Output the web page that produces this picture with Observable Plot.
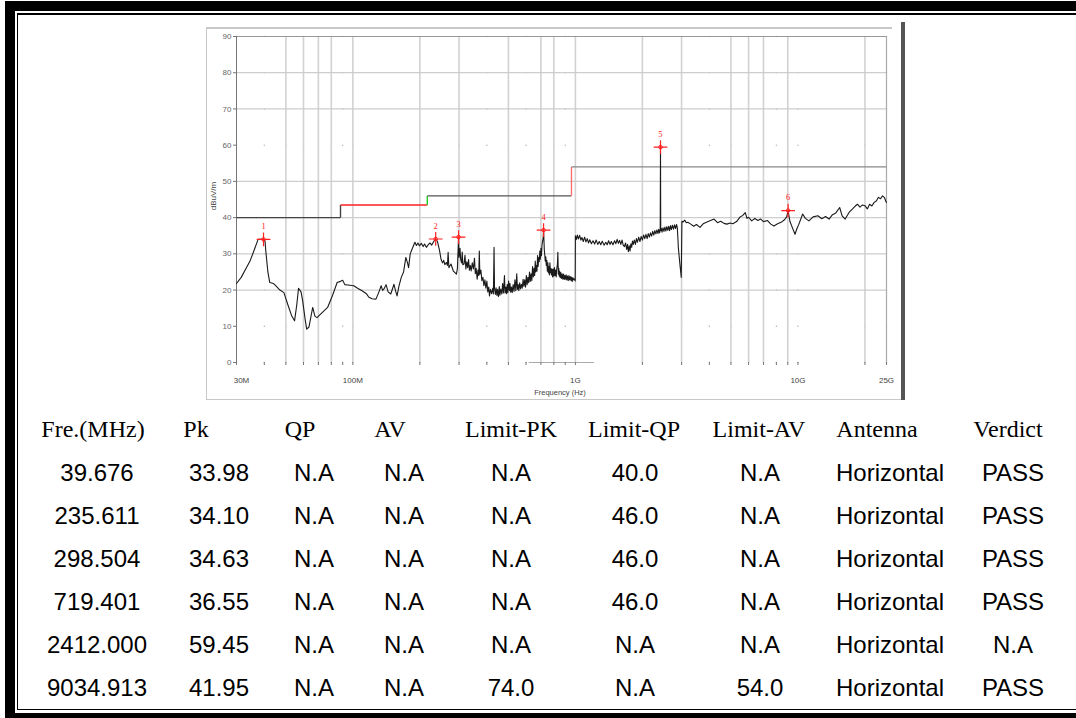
<!DOCTYPE html>
<html>
<head>
<meta charset="utf-8">
<script src="https://cdn.jsdelivr.net/npm/d3@7"></script>
<script src="https://cdn.jsdelivr.net/npm/@observablehq/plot@0.6"></script>
<style>
  html, body { margin: 0; padding: 0; background: #fff; }
  #page { position: relative; width: 1076px; height: 718px; overflow: hidden; background: #fff; }
  #page svg { position: absolute; left: 0; top: 0; }
  .bar { position: absolute; background: #000; }
  .fr { position: absolute; }
  .cell { position: absolute; transform: translate(-50%, -50%); white-space: nowrap; line-height: 24px; color: #000; }
  .hdr { font-family: "Liberation Serif", "Times New Roman", serif; font-size: 24px; }
  .val { font-family: "Liberation Sans", Arial, sans-serif; font-size: 24px; }
</style>
</head>
<body>
<div id="page"></div>
<script>
// ---------- chart data (frequency in MHz, level in dBuV/m) ----------
const traceF = [30,31.5,33,34.5,36,37.5,39.7,40.3,40.6,41.5,42.3,44,45,47,49,51,53,54.7,56,57,58.5,59.5,61,62,63.5,66,67.5,69,72,77,81,85,88,90,92,95,101,105,110,115,118,122,127,131,134,136,138,141,144,148,151,153,156,158,161,165,169,173,176,178,181,186,190,193,196,199,203,207,210,214,218,222,226,232,235.6,240,245,249,253,256,259,263,266,268,270,276,283,292,
295,298.5,300,303,305,308,310,312,316,319,322,325,328,331,334,337,340,344,348,352,355,358,362,365,368,370,372,376,380,384,388,392,396,400,404,408,411,415,420,425,428,431,433,437,440,444,447,451,455,458,462,467,471,475,480,483,487,490,494,497,501,505,508,512,516,520,525,530,535,540,545,549,553,557,562,567,572,577,582,587,592,597,602,607,612,617,622,627,632,637,642,647,652,656,660,664,668,672,676,680,684,688,692,696,700,704,708,712,716,719.4,722,725,728,732,736,740,744,748,752,756,760,764,768,772,776,780,785,790,795,800,805,810,815,820,825,830,834,838,842,846,850,855,860,866,872,878,885,890,896,902,908,914,920,928,935,942,948,956,962,968,975,985,995,998,
1000,1010,1020,1030,1045,1058,1070,1085,1100,1115,1130,1145,1160,1180,1200,1220,1240,1260,1280,1300,1320,1345,1370,1390,1410,1430,1450,1475,1500,1520,1540,1560,1580,1600,1620,1640,1660,1680,1700,1715,1730,1745,1760,1775,1790,1805,1820,1840,1860,1880,1900,1925,1950,1975,2000,2025,2050,2075,2100,2125,2150,2175,2200,2225,2250,2275,2300,2325,2350,2370,2390,2405,2412,2418,2435,2450,2475,2500,2525,2550,2575,2600,2625,2650,2675,2700,2730,2760,2790,2820,2850,2870,2890,2900,2950,2990,
3010,3050,3100,3150,3200,3300,3400,3500,3630,3750,3900,4050,4200,4350,4500,4650,4800,4950,5100,5300,5500,5650,5800,5900,6000,6200,6400,6600,6800,7000,7300,7550,7800,8100,8400,8700,8900,9035,9200,9400,9700,9900,10100,10500,10800,11200,11700,12300,12800,13300,13800,14300,14800,15400,15800,16300,17000,17600,18100,18500,19000,19500,20000,20500,21000,21500,22000,22500,23000,23500,24000,24500,24800,25000];
const traceV = [21.8,23.5,25.8,28,31,34,34,33.5,31,25,22.1,21.8,21.2,20,19.3,16,13,11.5,16,20.5,19.5,17,12,9.2,9.8,15.2,12.8,12.4,13.5,15.2,18.5,22.1,22.4,22.7,21.5,21.4,21.2,20.5,19.8,19,18,17.6,17.5,19.5,21.2,19.9,20.3,21.5,19.5,18.9,20.5,21.6,19.5,18.4,21,23.5,25,29,27.5,26.2,30,31.8,33.2,32.3,33,32.2,32.9,32,32.7,31.8,32.5,33,32.4,33.6,34.1,33.4,31,28.5,27.5,28.2,27,27.6,26.8,30.4,26.2,27.2,25.2,24.4,
26,34.6,29,31.5,28.5,27.5,30.5,27,27.2,29.6,25.8,27.8,26.2,28.4,25.5,26.8,25.3,27.5,25.8,28.8,24.5,26,23,25.5,24,30.8,24.4,25.5,22.6,23.5,21.2,22.8,20.5,22.5,19.5,20.8,18.4,20.2,19,20.5,18.9,31.8,20.5,18.8,20.6,18.5,20.2,18.2,21,18.6,20.3,18.9,21.8,19.2,24,19.2,20.8,19,21.5,19.3,22.5,19.8,21.8,19.4,20.8,19.3,21.5,19.6,22.8,19.8,24.5,20.2,21.5,19.8,22,20.3,21.6,20.5,23,21,22.8,20.8,24,21.5,23.5,22,25,22.4,24.5,22.6,26.5,23.6,26,24,28,25,26.8,25.2,29.5,26.5,29,27.8,30.8,28.5,31.5,29.5,32.5,33.5,34.2,36.5,34,31,29.9,28,29.2,26.8,28.2,25.2,27.5,24.8,26.5,24.2,27.5,24.8,26,24.2,25.8,23.6,25.8,23.8,26.2,24,25.5,23.6,26,27,30.4,24.4,26,23.8,25.2,23.4,24.8,23.2,24.5,23,24.4,22.9,24,23,24.2,22.8,23.9,22.6,24,22.8,23.7,22.6,23.6,22.4,23.4,22.8,23.2,22.5,
35,34,35.2,34.1,35.1,33.8,34.5,33.4,34.6,33.3,34.2,33,33.9,32.8,33.6,32.7,33.8,32.6,33.4,32.5,33.5,32.4,33.2,32.5,33.6,32.6,33.4,32.5,33.6,32.8,34,32.9,33.7,32.6,33.8,32.4,32,33,31.2,32.6,30.6,32.2,30.8,32.8,31.8,33.5,32.6,33.8,32.6,34.2,33.2,34.6,33.4,34.8,33.8,35.2,34.2,35.4,34.2,35.6,34.6,35.8,34.9,36.2,35.2,36.4,35.5,36.6,35.6,36.8,35.8,36.6,59.45,36.4,37,36,37.2,36.2,37.4,36.3,37.5,36.5,37.6,36.4,37.8,36.7,37.9,36.8,38,37,38.1,37.2,34,31.8,27,23.5,
39,38.8,39.3,38.6,38.7,38.2,37.6,38.1,37.3,38.3,38.8,39.2,39.6,38.6,39,38.4,38.2,38.5,38.3,38.9,40.2,40.6,41.4,39.8,40.1,39.1,39.8,39.2,39.6,38.9,39.2,38.2,37.7,38.3,38.7,39.4,40.2,41.9,39,37.5,35.4,37,38.2,41,39.8,39.1,40.2,40.5,39.7,40.3,39.6,40.8,41.3,42.8,40.5,39.6,41.5,42.4,43.2,43.7,42.9,43.5,43.3,42.4,43.7,43.2,44.2,44.6,45.6,45.2,46,45.5,44.6,44.2];

// limit line (steps), frequency in MHz
const limitF = [30, 88, 88, 216, 216, 960, 960, 25000];
const limitV = [40, 40, 43.5, 43.5, 46, 46, 54, 54];
const limitSegColors = ["#444", "#444", "#ff2020", "#22cc22", "#555", "#ff7070", "#888"];

// axes
const yTicks = [0, 10, 20, 30, 40, 50, 60, 70, 80, 90];
const xMinorTicks = [30,40,50,60,70,80,90,100,200,300,400,500,600,700,800,900,1000,2000,3000,4000,5000,6000,7000,8000,9000,10000,20000,25000];
const xLabelF = [100, 1000, 10000, 25000];
const xLabelT = ["100M", "1G", "10G", "25G"];
const xFirstLabelF = [30];
const xFirstLabelT = ["30M"];
const gridF = [50,60,70,80,100,200,300,500,700,800,1000,2000,3000,5000,6000,7000,9000,20000];
const gridV = [20, 30, 40, 50, 70, 80];
const bottomStubF = [620, 1220];

// ---------- table data ----------
const headers = ["Fre.(MHz)", "Pk", "QP", "AV", "Limit-PK", "Limit-QP", "Limit-AV", "Antenna", "Verdict"];
const freqCol = ["39.676", "235.611", "298.504", "719.401", "2412.000", "9034.913"];
const pkCol = ["33.98", "34.10", "34.63", "36.55", "59.45", "41.95"];
const qpCol = ["N.A", "N.A", "N.A", "N.A", "N.A", "N.A"];
const avCol = ["N.A", "N.A", "N.A", "N.A", "N.A", "N.A"];
const limPkCol = ["N.A", "N.A", "N.A", "N.A", "N.A", "74.0"];
const limQpCol = ["40.0", "46.0", "46.0", "46.0", "N.A", "N.A"];
const limAvCol = ["N.A", "N.A", "N.A", "N.A", "N.A", "54.0"];
const antCol = ["Horizontal", "Horizontal", "Horizontal", "Horizontal", "Horizontal", "Horizontal"];
const verdictCol = ["PASS", "PASS", "PASS", "PASS", "N.A", "PASS"];
const markerNo = ["1", "2", "3", "4", "5", "6"];

// ---------- build ----------
const trace = traceF.map((f, i) => ({f, v: traceV[i]}));
const limitSegs = limitSegColors.map((c, i) => ({x1: limitF[i], y1: limitV[i], x2: limitF[i + 1], y2: limitV[i + 1], c}));
const markers = freqCol.map((f, i) => ({f: +f, v: +pkCol[i], n: markerNo[i]}));
const dots = [];
for (const f of xMinorTicks) for (const v of yTicks) dots.push({f, v});

const chart = Plot.plot({
  width: 1076,
  height: 405,
  marginLeft: 236,
  marginRight: 190,
  marginTop: 36,
  marginBottom: 43,
  style: {background: "transparent", fontFamily: "'Liberation Sans', Arial, sans-serif"},
  x: {type: "log", domain: [30, 25000]},
  y: {domain: [0, 90]},
  marks: [
    Plot.dot(dots, {x: "f", y: "v", r: 0.7, fill: "#aaa", stroke: null}),
    Plot.ruleX(gridF, {stroke: "#d2d2d2", strokeWidth: 1.6}),
    Plot.ruleY(gridV, {stroke: "#cdcdcd", strokeWidth: 1.3}),
    Plot.ruleY([90], {stroke: "#999", strokeWidth: 1}),
    Plot.ruleX([25000], {stroke: "#aaa", strokeWidth: 1.2}),
    Plot.ruleX([30], {stroke: "#777", strokeWidth: 1}),
    Plot.ruleY([0], {x1: bottomStubF[0], x2: bottomStubF[1], stroke: "#aaa", strokeWidth: 1}),
    Plot.axisY({ticks: yTicks, tickSize: 3, tickPadding: 2, fontSize: 8, stroke: "#777", fill: "#666", label: null}),
    Plot.axisX({ticks: xMinorTicks, tickSize: 3, tickFormat: () => "", stroke: "#777", label: null}),
    Plot.text(xLabelT, {x: (d, i) => xLabelF[i], y: 0, dy: 18, text: d => d, fontSize: 8, fill: "#444"}),
    Plot.text(xFirstLabelT, {x: (d, i) => xFirstLabelF[i], y: 0, dy: 18, dx: 5, text: d => d, fontSize: 8, fill: "#444"}),
    Plot.link(limitSegs, {x1: "x1", y1: "y1", x2: "x2", y2: "y2", stroke: "c", strokeWidth: 1.4}),
    Plot.line(trace, {x: "f", y: "v", stroke: "#1a1a1a", strokeWidth: 1.1}),
    Plot.dot(markers, {x: "f", y: "v", symbol: "plus", r: 4.5, stroke: "#ff2020", strokeWidth: 1.2}),
    Plot.dot(markers, {x: "f", y: "v", r: 1.8, stroke: "#ff2020", fill: "none", strokeWidth: 1}),
    Plot.text(markers, {x: "f", y: "v", text: "n", dy: -13, fontSize: 8.5, fill: "#ff2020", fontFamily: "'Liberation Serif', serif"})
  ]
});

const page = document.getElementById("page");
page.appendChild(chart);

// axis titles in the chart area
const svgNS = "http://www.w3.org/2000/svg";
function svgText(txt, x, y, size, rot) {
  const t = document.createElementNS(svgNS, "text");
  t.textContent = txt;
  t.setAttribute("x", x); t.setAttribute("y", y);
  t.setAttribute("font-size", size);
  t.setAttribute("fill", "#444");
  t.setAttribute("text-anchor", "middle");
  t.setAttribute("dominant-baseline", "middle");
  t.setAttribute("font-family", "'Liberation Sans', Arial, sans-serif");
  if (rot) t.setAttribute("transform", `rotate(${rot},${x},${y})`);
  chart.appendChild(t);
}
svgText("dBuV/m", 214, 196, 8, -90);
svgText("Frequency (Hz)", 560, 393, 7.5, 0);

// frames (decoration)
function box(cls, l, t, w, h, bg) {
  const d = document.createElement("div");
  d.className = cls;
  Object.assign(d.style, {left: l + "px", top: t + "px", width: w + "px", height: h + "px"});
  if (bg) d.style.background = bg;
  page.appendChild(d);
}
// chart picture frame
box("fr", 206, 27, 686, 1.5, "#c8c8c8");
box("fr", 205.5, 27, 1.5, 373, "#c8c8c8");
box("fr", 206, 398.5, 696, 1.5, "#c8c8c8");
box("fr", 901, 22, 4, 378, "#555");
// page border
box("bar", 5, 1, 1071, 10);
box("bar", 5, 1, 10, 717);
box("bar", 17, 13, 1059, 1.6);
box("bar", 16.5, 13, 1.6, 697);
box("bar", 16.5, 708.5, 1060, 1.8);
box("bar", 5, 713, 1071, 5);

// table
const colX = {hdr: [93, 196, 300, 390, 511, 634, 759, 877, 1008], val: [97, 219, 314, 404, 511, 635, 760, 890, 1013]};
const rowY = [472.5, 515.5, 558.5, 601.5, 645, 688];
const hdrY = 429;
const cols = [freqCol, pkCol, qpCol, avCol, limPkCol, limQpCol, limAvCol, antCol, verdictCol];
function cell(cls, txt, x, y) {
  const d = document.createElement("div");
  d.className = "cell " + cls;
  d.textContent = txt;
  d.style.left = x + "px"; d.style.top = y + "px";
  page.appendChild(d);
}
headers.forEach((h, j) => cell("hdr", h, colX.hdr[j], hdrY));
cols.forEach((col, j) => col.forEach((v, i) => cell("val", v, colX.val[j], rowY[i])));
</script>
</body>
</html>
